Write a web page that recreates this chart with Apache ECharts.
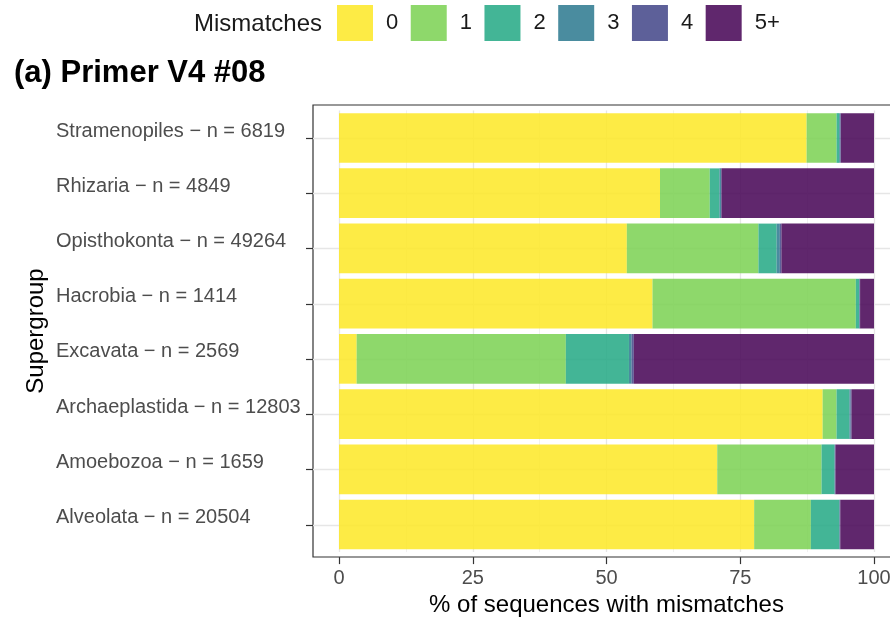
<!DOCTYPE html>
<html>
<head>
<meta charset="utf-8">
<script src="https://cdn.jsdelivr.net/npm/echarts@6/dist/echarts.min.js"></script>
<style>
html,body{margin:0;padding:0;background:#fff;}
#chart{width:890px;height:617px;}
</style>
</head>
<body>
<div id="chart"></div>
<script>
// ---- data ----
const categories = ['Stramenopiles','Rhizaria','Opisthokonta','Hacrobia','Excavata','Archaeplastida','Amoebozoa','Alveolata'];
const counts = [6819, 4849, 49264, 1414, 2569, 12803, 1659, 20504];
const mismatchLevels = ['0','1','2','3','4','5+'];
const mm0 = [87.4, 60.0, 53.8, 58.6, 3.3, 90.4, 70.7, 77.6];
const mm1 = [5.6, 9.3, 24.6, 38.0, 39.1, 2.6, 19.5, 10.6];
const mm2 = [0.5, 1.8, 3.4, 0.6, 11.8, 2.4, 2.4, 5.3];
const mm3 = [0.2, 0.3, 0.6, 0.1, 0.5, 0.2, 0.1, 0.1];
const mm4 = [0.1, 0.1, 0.3, 0.1, 0.4, 0.2, 0.1, 0.1];
const mm5 = [6.2, 28.5, 17.3, 2.6, 44.9, 4.2, 7.2, 6.3];
const xTicks = [0, 25, 50, 75, 100];
const categoryPositions = [1, 2, 3, 4, 5, 6, 7, 8];
const titleText = '(a) Primer V4 #08';
const xTitle = '% of sequences with mismatches';
const yTitle = 'Supergroup';
const legendTitle = 'Mismatches';

// ---- styles ----
const FONT = 'Liberation Sans, Arial, sans-serif';
const levelColors = ['rgba(253,231,37,0.85)','rgba(122,209,81,0.85)','rgba(34,168,132,0.85)',
                     'rgba(42,120,142,0.85)','rgba(65,68,135,0.85)','rgba(68,1,84,0.85)'];
const seriesValues = [mm0, mm1, mm2, mm3, mm4, mm5];
const yLabels = categories.map((c, i) => c + ' \u2212 n = ' + counts[i]);

const chart = echarts.init(document.getElementById('chart'), null, {renderer: 'canvas'});
const option = {
  animation: false,
  backgroundColor: '#fff',
  textStyle: {fontFamily: FONT},
  title: [
    {text: titleText, left: 14, top: 58, padding: 0,
     textStyle: {fontFamily: FONT, fontSize: 31, fontWeight: 'bold', color: '#000'}},
    {text: legendTitle, left: 189, top: 7,
     textStyle: {fontFamily: FONT, fontSize: 24, fontWeight: 'normal', color: '#1a1a1a'}}
  ],
  graphic: [
    {type: 'text', x: 36, y: 331, rotation: Math.PI / 2,
     style: {text: yTitle, fontFamily: FONT, fontSize: 24, fill: '#000',
             align: 'center', verticalAlign: 'middle'}}
  ],
  legend: {
    data: mismatchLevels,
    left: 337, top: 5, padding: 0,
    icon: 'rect',
    itemWidth: 36, itemHeight: 36, itemGap: 12.5,
    textStyle: {fontFamily: FONT, fontSize: 22, color: '#1a1a1a', padding: [0,0,0,8]},
    selectedMode: false
  },
  grid: [
    {left: 339, width: 535, top: 110.4, height: 441.7, containLabel: false, outerBoundsMode: 'none'},
    {left: 313, width: 588, top: 105, height: 452, show: true, borderColor: '#333',
     borderWidth: 1.2, backgroundColor: 'transparent', containLabel: false, outerBoundsMode: 'none'}
  ],
  xAxis: [
    {type: 'value', gridIndex: 0, min: xTicks[0], max: xTicks[xTicks.length-1], interval: 25,
     offset: 5,
     axisLine: {show: false},
     axisTick: {show: true, length: 7, lineStyle: {color: '#333', width: 1.2}},
     axisLabel: {fontFamily: FONT, fontSize: 20, color: '#4d4d4d', margin: 11},
     splitLine: {show: true, lineStyle: {color: '#e6e6e6', width: 1.3}},
     minorTick: {show: false, splitNumber: 2},
     minorSplitLine: {show: true, lineStyle: {color: '#f1f1f1', width: 1}},
     name: xTitle, nameLocation: 'middle', nameGap: 33,
     nameTextStyle: {fontFamily: FONT, fontSize: 24, color: '#000'}},
    {type: 'value', gridIndex: 1, min: 0, max: 1, show: false}
  ],
  yAxis: [
    {type: 'category', gridIndex: 0, data: yLabels, inverse: true, offset: 26,
     axisLine: {show: false},
     axisTick: {show: false},
     axisLabel: {fontFamily: FONT, fontSize: 20, color: '#4d4d4d', align: 'left', margin: 257,
                 verticalAlign: 'bottom', lineHeight: 14},
     splitLine: {show: false}},
    {type: 'value', gridIndex: 1, inverse: true, min: 0.4023, max: 8.583,
     axisLine: {show: false},
     axisTick: {show: true, length: 7, customValues: categoryPositions,
                lineStyle: {color: '#333', width: 1.2}},
     axisLabel: {show: false},
     splitLine: {show: true, lineStyle: {color: '#e6e6e6', width: 1.3}}}
  ],
  series: mismatchLevels.map((lv, k) => ({
    name: lv,
    type: 'bar',
    stack: 'total',
    xAxisIndex: 0,
    yAxisIndex: 0,
    barCategoryGap: '10%',
    itemStyle: {color: levelColors[k]},
    emphasis: {disabled: true},
    data: seriesValues[k]
  }))
};
chart.setOption(option);
</script>
</body>
</html>
